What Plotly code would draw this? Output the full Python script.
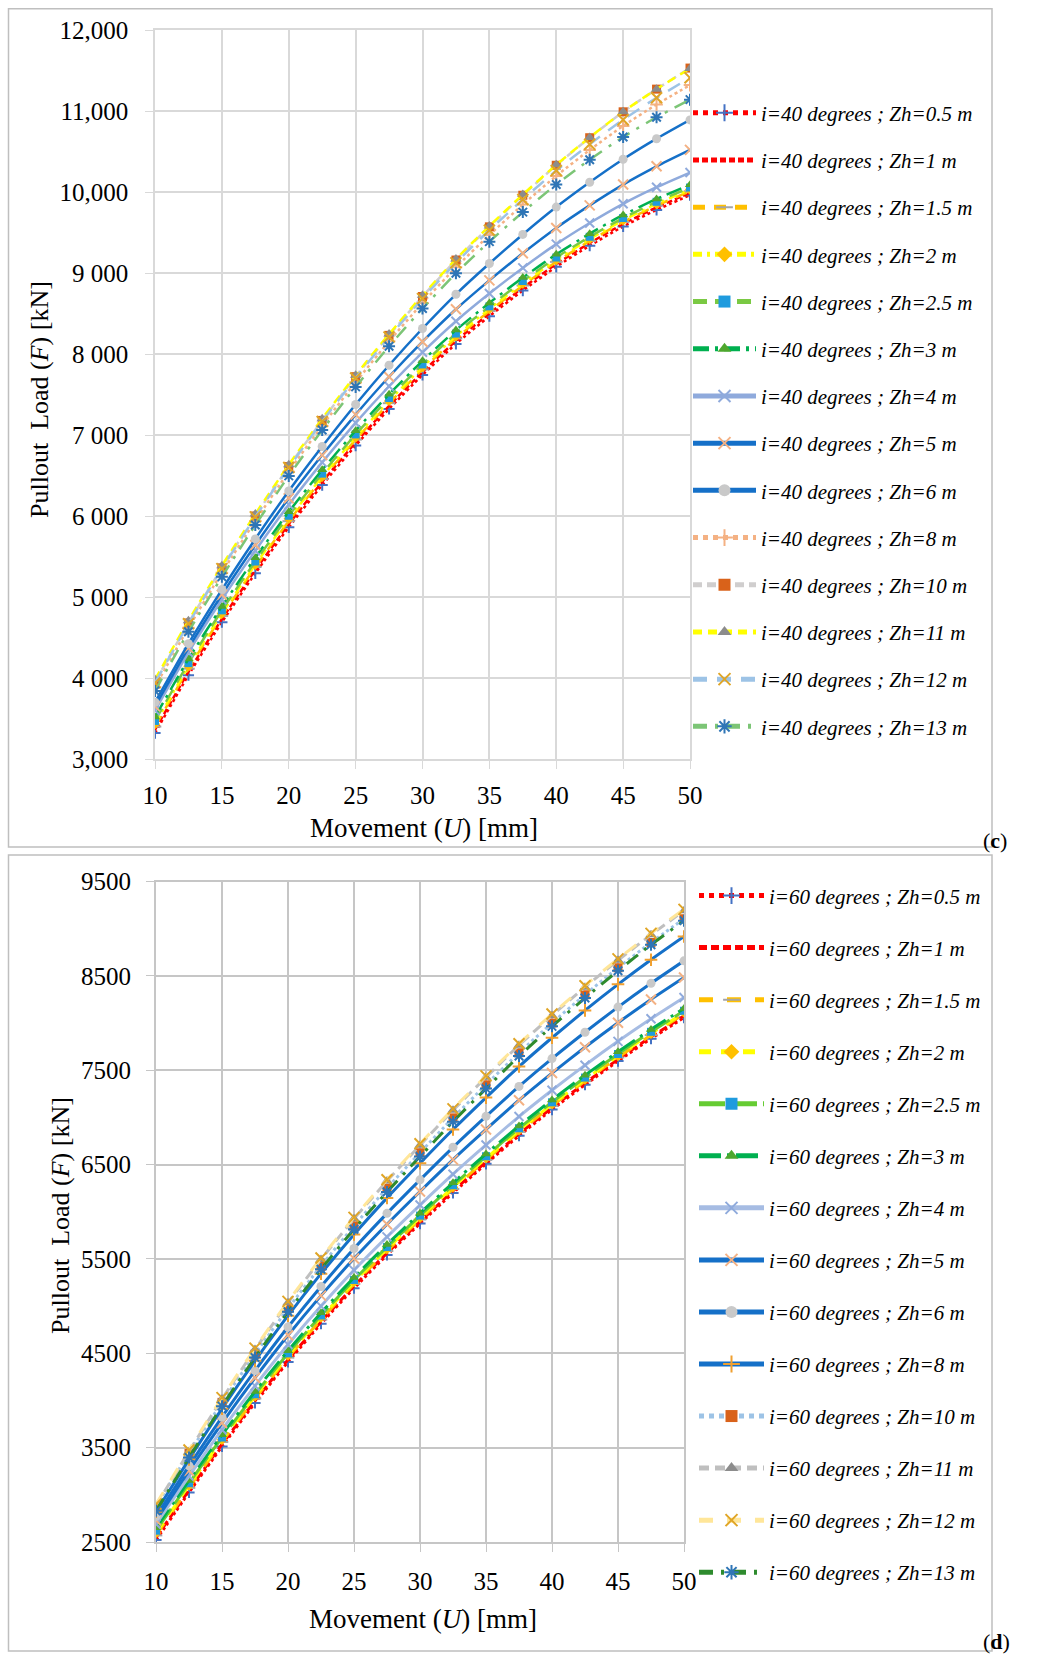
import plotly.graph_objects as go

# The figure fills the whole 1039x1657 page (body margin removed by post_script).
FW, FH = 1039, 1657


def PX(p):
    return p / FW


def PY(p):
    return 1 - p / FH


# ---------------- data ----------------
U = [10, 12.5, 15, 17.5, 20, 22.5, 25, 27.5, 30, 32.5, 35, 37.5, 40, 42.5, 45, 47.5, 50]
ZH = ["0.5", "1", "1.5", "2", "2.5", "3", "4", "5", "6", "8", "10", "11", "12", "13"]

# panel (c): i = 40 degrees
c_05 = [3320, 4035, 4688, 5292, 5860, 6382, 6870, 7322, 7741, 8125, 8466, 8783, 9076, 9337, 9574, 9779, 9960]
c_1 = [3360, 4075, 4727, 5331, 5899, 6421, 6907, 7359, 7777, 8161, 8501, 8817, 9110, 9370, 9606, 9810, 9990]
c_15 = [3400, 4115, 4766, 5370, 5936, 6457, 6943, 7393, 7810, 8192, 8531, 8846, 9137, 9395, 9630, 9831, 10010]
c_2 = [3430, 4144, 4796, 5399, 5965, 6485, 6970, 7421, 7836, 8218, 8556, 8870, 9160, 9418, 9651, 9852, 10030]
c_25 = [3470, 4184, 4835, 5438, 6003, 6523, 7007, 7456, 7871, 8252, 8588, 8901, 9191, 9447, 9679, 9879, 10055]
c_3 = [3520, 4234, 4884, 5486, 6051, 6570, 7054, 7502, 7916, 8295, 8631, 8943, 9231, 9486, 9717, 9915, 10090]
c_4 = [3600, 4315, 4968, 5572, 6140, 6662, 7150, 7602, 8021, 8405, 8746, 9063, 9356, 9617, 9854, 10059, 10240]
c_5 = [3650, 4369, 5028, 5641, 6219, 6752, 7252, 7719, 8152, 8552, 8909, 9244, 9556, 9835, 10092, 10317, 10520]
c_6 = [3700, 4424, 5092, 5717, 6309, 6858, 7376, 7861, 8315, 8737, 9117, 9476, 9814, 10120, 10404, 10658, 10890]
c_8 = [3890, 4620, 5300, 5939, 6547, 7115, 7651, 8156, 8629, 9070, 9469, 9845, 10198, 10519, 10816, 11080, 11320]
c_10 = [3950, 4680, 5360, 6000, 6610, 7180, 7720, 8230, 8710, 9160, 9570, 9960, 10330, 10670, 10990, 11270, 11530]
c_11 = [3980, 4708, 5386, 6024, 6632, 7200, 7738, 8246, 8724, 9172, 9580, 9968, 10336, 10674, 10992, 11270, 11525]
c_12 = [3940, 4670, 5350, 5989, 6598, 7166, 7703, 8209, 8684, 9127, 9528, 9908, 10265, 10590, 10893, 11163, 11410]
c_13 = [3840, 4570, 5249, 5888, 6495, 7061, 7594, 8095, 8562, 8997, 9387, 9752, 10093, 10399, 10679, 10923, 11140]

# panel (d): i = 60 degrees
d_05 = [2520, 3025, 3512, 3974, 4408, 4813, 5190, 5542, 5875, 6200, 6508, 6806, 7083, 7346, 7597, 7834, 8058]
d_1 = [2545, 3049, 3536, 3997, 4431, 4834, 5212, 5562, 5896, 6220, 6527, 6825, 7102, 7364, 7615, 7852, 8075]
d_15 = [2570, 3074, 3560, 4020, 4454, 4857, 5234, 5584, 5918, 6241, 6549, 6846, 7123, 7385, 7635, 7872, 8095]
d_2 = [2595, 3098, 3583, 4043, 4476, 4878, 5254, 5604, 5937, 6260, 6566, 6864, 7139, 7401, 7651, 7887, 8110]
d_25 = [2620, 3123, 3607, 4066, 4499, 4901, 5277, 5626, 5959, 6281, 6588, 6885, 7160, 7422, 7672, 7907, 8130]
d_3 = [2650, 3152, 3636, 4095, 4527, 4929, 5304, 5653, 5985, 6307, 6613, 6910, 7185, 7447, 7696, 7932, 8154]
d_4 = [2690, 3199, 3690, 4155, 4593, 5000, 5381, 5734, 6071, 6398, 6708, 7009, 7288, 7553, 7806, 8045, 8270]
d_5 = [2730, 3255, 3761, 4240, 4691, 5111, 5504, 5868, 6215, 6552, 6872, 7182, 7470, 7743, 8003, 8250, 8482]
d_6 = [2770, 3307, 3825, 4316, 4778, 5208, 5610, 5983, 6338, 6683, 7011, 7328, 7623, 7902, 8169, 8421, 8659]
d_8 = [2820, 3376, 3913, 4420, 4899, 5344, 5760, 6147, 6514, 6871, 7210, 7539, 7844, 8134, 8410, 8671, 8917]
d_10 = [2880, 3440, 3980, 4490, 4975, 5425, 5850, 6250, 6625, 6995, 7345, 7685, 8000, 8300, 8585, 8853, 9105]
d_11 = [2885, 3460, 4015, 4540, 5035, 5495, 5925, 6325, 6705, 7075, 7425, 7765, 8080, 8380, 8665, 8935, 9190]
d_12 = [2900, 3475, 4030, 4555, 5050, 5510, 5940, 6340, 6720, 7090, 7440, 7780, 8095, 8395, 8680, 8950, 9205]
d_13 = [2830, 3395, 3940, 4455, 4940, 5390, 5815, 6210, 6585, 6955, 7305, 7650, 7965, 8265, 8555, 8830, 9085]

X_TICKS = [10, 15, 20, 25, 30, 35, 40, 45, 50]
C_YTICKS = [3000, 4000, 5000, 6000, 7000, 8000, 9000, 10000, 11000, 12000]
C_YTEXT = ["3,000", "4 000", "5 000", "6 000", "7 000", "8 000", "9 000", "10,000", "11,000", "12,000"]
D_YTICKS = [2500, 3500, 4500, 5500, 6500, 7500, 8500, 9500]
D_YTEXT = ["2500", "3500", "4500", "5500", "6500", "7500", "8500", "9500"]

C_SERIES = [c_05, c_1, c_15, c_2, c_25, c_3, c_4, c_5, c_6, c_8, c_10, c_11, c_12, c_13]
D_SERIES = [d_05, d_1, d_15, d_2, d_25, d_3, d_4, d_5, d_6, d_8, d_10, d_11, d_12, d_13]

# ---------------- styles ----------------
BLUE = "#1570C8"
# (line colour, dash, marker symbol, marker colour, marker size)
C_STYLE = [
    ("#FF0000", "dot", "cross-thin", "#4472C4", 8),
    ("#FF0000", "6px,3px", None, None, 0),
    ("#FFC000", "12px,9px", "line-ew", "#A5A5A5", 9),
    ("#FFFF00", "9px,5px,3px,5px", "diamond", "#FFC000", 8),
    ("#7AC943", "14px,8px", "square", "#1F9BDE", 8),
    ("#00B050", "16px,6px,3px,6px", "triangle-up", "#4EA72E", 9),
    ("#8FAADC", "solid", "x-thin", "#8FAADC", 9),
    (BLUE, "solid", "x-thin", "#F4B183", 10),
    (BLUE, "solid", "circle", "#C9C9C9", 9),
    ("#F4B183", "dot", "cross-thin", "#F4B183", 9),
    ("#D0CECE", "9px,5px", "square", "#D9621A", 9),
    ("#FFFF00", "9px,6px", "triangle-up", "#8C8C8C", 10),
    ("#9DC3E6", "14px,10px", "x-thin", "#E0A526", 11),
    ("#7CC576", "14px,8px,3px,8px", "asterisk", "#2E75B6", 10),
]
D_STYLE = [
    ("#FF0000", "dot", "cross-thin", "#4472C4", 8),
    ("#FF0000", "8px,4px", None, None, 0),
    ("#FFC000", "14px,14px", "line-ew", "#A5A5A5", 9),
    ("#FFFF00", "12px,10px", "diamond", "#FFC000", 8),
    ("#66CC33", "26px,6px", "square", "#1F9BDE", 8),
    ("#00B050", "22px,6px,3px,6px", "triangle-up", "#4EA72E", 9),
    ("#A6BCE3", "solid", "x-thin", "#8FAADC", 9),
    (BLUE, "solid", "x-thin", "#F4B183", 10),
    (BLUE, "solid", "circle", "#C9C9C9", 9),
    (BLUE, "solid", "cross-thin", "#F0A030", 9),
    ("#9DC3E6", "dot", "square", "#D9621A", 9),
    ("#BFBFBF", "10px,6px", "triangle-up", "#8C8C8C", 10),
    ("#FFE699", "14px,14px", "x-thin", "#E0A526", 11),
    ("#2E8B2E", "14px,8px,3px,8px", "asterisk", "#2E75B6", 10),
]

THIN = {"cross-thin", "x-thin", "asterisk", "line-ew"}
FONT = "Liberation Serif"

fig = go.Figure()


def add_panel(series, styles, deg, xa, ya, legend, lw):
    for k, (ys, st) in enumerate(zip(series, styles)):
        lc, dash, sym, mc, ms = st
        marker = None
        mode = "lines"
        if sym is not None:
            mode = "lines+markers"
            if sym in THIN:
                marker = dict(symbol=sym, size=ms, color=mc,
                              line=dict(color=mc, width=2))
            else:
                marker = dict(symbol=sym, size=ms, color=mc, line=dict(width=0))
        fig.add_trace(go.Scatter(
            x=U, y=ys, mode=mode,
            name=f"i={deg} degrees ; Zh={ZH[k]} m",
            line=dict(color=lc, dash=dash, width=lw, shape="spline", smoothing=0.6),
            marker=marker,
            xaxis=xa, yaxis=ya, legend=legend,
            legendgroup=f"{legend}_{k}",
        ))


add_panel(C_SERIES, C_STYLE, 40, "x", "y", "legend", 2.5)
add_panel(D_SERIES, D_STYLE, 60, "x2", "y2", "legend2", 3)

tickfont = dict(family=FONT, size=25, color="black")
axis_common = dict(showgrid=True, ticks="outside", ticklen=8, showline=True,
                   mirror=True, zeroline=False, tickfont=tickfont, automargin=False)

GRID_C = "#D9D9D9"
GRID_D = "#C6C6C6"

fig.update_layout(
    width=FW, height=FH, autosize=False,
    margin=dict(l=0, r=0, t=0, b=0, pad=0, autoexpand=False),
    paper_bgcolor="white", plot_bgcolor="white",
    font=dict(family=FONT, color="black"),
    showlegend=True,
    xaxis=dict(domain=[PX(155), PX(690)], range=[10, 50], anchor="y",
               tickmode="array", tickvals=X_TICKS, ticklabelstandoff=5,
               gridcolor=GRID_C, linecolor=GRID_C, tickcolor=GRID_C, gridwidth=1.5,
               linewidth=1.5, **axis_common),
    yaxis=dict(domain=[PY(759), PY(30)], range=[3000, 12000], anchor="x",
               tickmode="array", tickvals=C_YTICKS, ticktext=C_YTEXT, ticklabelstandoff=12,
               gridcolor=GRID_C, linecolor=GRID_C, tickcolor=GRID_C, gridwidth=1.5,
               linewidth=1.5, **axis_common),
    xaxis2=dict(domain=[PX(156), PX(684)], range=[10, 50], anchor="y2",
                tickmode="array", tickvals=X_TICKS, ticklabelstandoff=8,
                gridcolor=GRID_D, linecolor=GRID_D, tickcolor=GRID_D, gridwidth=2,
                linewidth=2, **axis_common),
    yaxis2=dict(domain=[PY(1542), PY(881.5)], range=[2500, 9500], anchor="x2",
                tickmode="array", tickvals=D_YTICKS, ticktext=D_YTEXT, ticklabelstandoff=10,
                gridcolor=GRID_D, linecolor=GRID_D, tickcolor=GRID_D, gridwidth=2,
                linewidth=2, **axis_common),
    legend=dict(x=PX(688), y=PY(92.6), xanchor="left", yanchor="top",
                font=dict(family=FONT, size=21, color="black", style="italic"),
                bgcolor="rgba(0,0,0,0)", borderwidth=0, itemwidth=63,
                tracegroupgap=16.9, traceorder="grouped", itemsizing="constant"),
    legend2=dict(x=PX(694), y=PY(875.4), xanchor="left", yanchor="top",
                 font=dict(family=FONT, size=21, color="black", style="italic"),
                 bgcolor="rgba(0,0,0,0)", borderwidth=0, itemwidth=65,
                 tracegroupgap=21.75, traceorder="grouped", itemsizing="constant"),
)

FRAME = "#BFBFBF"
fig.add_shape(type="rect", xref="paper", yref="paper",
              x0=PX(8.5), x1=PX(992), y0=PY(847), y1=PY(8.8),
              line=dict(color=FRAME, width=1.5), layer="below")
fig.add_shape(type="rect", xref="paper", yref="paper",
              x0=PX(8.5), x1=PX(992), y0=PY(1651), y1=PY(855),
              line=dict(color=FRAME, width=1.5), layer="below")

ann = [
    dict(text="Pullout\u00a0 Load (<i>F</i>) [kN]", x=PX(39), y=PY(400), textangle=-90, size=26),
    dict(text="Movement (<i>U</i>) [mm]", x=PX(424), y=PY(828), size=27),
    dict(text="Pullout\u00a0 Load (<i>F</i>) [kN]", x=PX(60), y=PY(1216), textangle=-90, size=26),
    dict(text="Movement (<i>U</i>) [mm]", x=PX(423), y=PY(1619), size=27),
]
for a in ann:
    size = a.pop("size")
    fig.add_annotation(xref="paper", yref="paper", showarrow=False,
                       xanchor="center", yanchor="middle",
                       font=dict(family=FONT, size=size, color="black"), **a)
lab_font = dict(family=FONT, size=22, color="black")
fig.add_annotation(text="(<b>c</b>)", x=PX(995), y=PY(840), xref="paper", yref="paper",
                   showarrow=False, xanchor="center", yanchor="middle", font=lab_font)
fig.add_annotation(text="(<b>d</b>)", x=PX(996), y=PY(1641), xref="paper", yref="paper",
                   showarrow=False, xanchor="center", yanchor="middle", font=lab_font)

fig.write_html("out.html", config={"displayModeBar": False},
               post_script="document.body.style.margin='0px';document.body.style.overflow='hidden';")
